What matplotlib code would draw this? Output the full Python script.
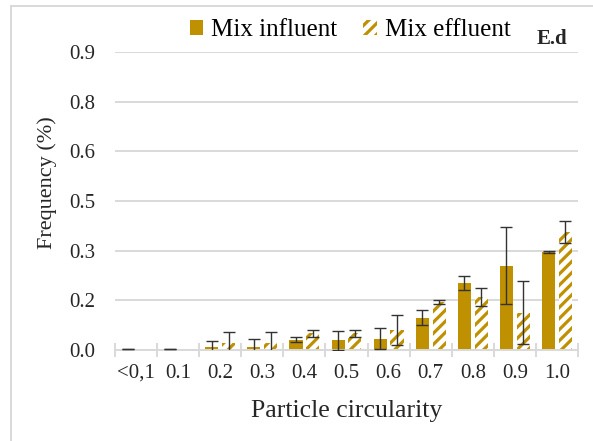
import numpy as np
import matplotlib.pyplot as plt
from matplotlib.patches import Rectangle

# === DATA ===
categories = ["<0,1", "0.1", "0.2", "0.3", "0.4", "0.5", "0.6", "0.7", "0.8", "0.9", "1.0"]
influent = [0.002, 0.002, 0.010, 0.010, 0.031, 0.029, 0.0335, 0.098, 0.203, 0.255, 0.297]
influent_err = [0.0, 0.0, 0.017, 0.024, 0.008, 0.028, 0.0315, 0.023, 0.022, 0.115, 0.003]
effluent = [0.0, 0.0, 0.020, 0.021, 0.050, 0.050, 0.060, 0.144, 0.160, 0.112, 0.356]
effluent_err = [0.0, 0.0, 0.035, 0.034, 0.010, 0.010, 0.046, 0.006, 0.027, 0.095, 0.033]
ytick_vals = [0.0, 0.15, 0.30, 0.45, 0.60, 0.75, 0.90]
ytick_labels = ["0.0", "0.2", "0.3", "0.5", "0.6", "0.8", "0.9"]

gold = "#BF9000"
grid_grey = "#D9D9D9"
text_col = "#262626"

plt.rcParams['font.family'] = ['Liberation Serif', 'DejaVu Serif']
plt.rcParams['hatch.linewidth'] = 2.3

fig = plt.figure(figsize=(5.93, 4.41), dpi=100)
ax = fig.add_axes([115 / 593, 1 - 350 / 441, 463 / 593, 298 / 441])

x = np.arange(len(categories))
w = 0.31
off = 0.2

ax.bar(x - off, influent, w, color=gold, linewidth=0, label="Mix influent", zorder=2)
ax.bar(x + off, effluent, w, facecolor="white", edgecolor=gold, hatch="///",
       linewidth=0, label="Mix effluent", zorder=2)

# error bars only where a bar exists
inf = np.array(influent)
eff = np.array(effluent)
m_inf = inf > 0
m_eff = eff > 0
ax.errorbar((x - off)[m_inf], inf[m_inf], yerr=np.array(influent_err)[m_inf], fmt="none",
            ecolor="#333333", elinewidth=1.0, capsize=4.5, capthick=1.0, zorder=3)
ax.errorbar((x + off)[m_eff], eff[m_eff], yerr=np.array(effluent_err)[m_eff], fmt="none",
            ecolor="#333333", elinewidth=1.0, capsize=4.5, capthick=1.0, zorder=3)

ax.set_xlim(-0.5, len(categories) - 0.5)
ax.set_ylim(0, 0.9)
ax.set_yticks(ytick_vals)
ax.set_yticklabels(ytick_labels)
ax.set_xticks(x)
ax.set_xticklabels(categories)
ax.set_xticks(np.arange(len(categories) + 1) - 0.5, minor=True)

ax.yaxis.grid(True, color=grid_grey, linewidth=1.4, zorder=0)
ax.set_axisbelow(True)
for s in ["top", "right", "left"]:
    ax.spines[s].set_visible(False)
ax.spines["bottom"].set_color(grid_grey)
ax.spines["bottom"].set_linewidth(1.4)

ax.tick_params(axis="y", length=0, labelsize=15, pad=14, colors=text_col)
ax.tick_params(axis="x", which="major", length=0, labelsize=15, pad=10, colors=text_col)
ax.tick_params(axis="x", which="minor", direction="inout", length=10, width=1.4, color=grid_grey)

ax.set_xlabel("Particle circularity", fontsize=18.5, color=text_col)
ax.xaxis.set_label_coords(0.5, -0.168)
ax.set_ylabel("Frequency (%)", fontsize=16, color=text_col)
ax.yaxis.set_label_coords(-0.125, 0.56)

fig.legend(loc="center", bbox_to_anchor=(350 / 593, 1 - 30 / 441), ncol=2, frameon=False,
           fontsize=18, handlelength=0.55, handleheight=0.55, handletextpad=0.3,
           columnspacing=1.05, borderaxespad=0)
fig.text(552 / 593, 1 - 39 / 441, "E.d", fontsize=15, fontweight="bold",
         ha="center", va="center", color=text_col)

# chart area border
fig.patches.append(Rectangle((11 / 593, -0.1), 1.2, 1 - 6 / 441 + 0.1, transform=fig.transFigure,
                             fill=False, edgecolor=grid_grey, linewidth=1.4))

fig.savefig("out.png", dpi=100)
